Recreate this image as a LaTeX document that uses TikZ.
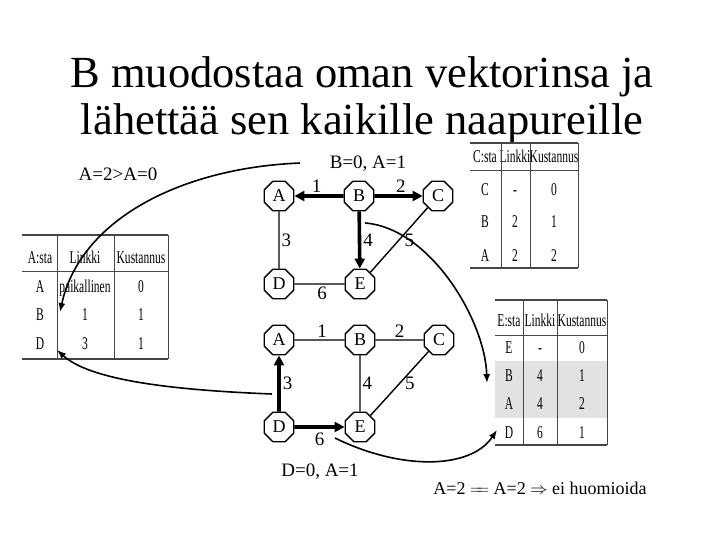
\documentclass[tikz,border=0pt]{standalone}
\usepackage{fontspec}
\setmainfont{Liberation Serif}
\usepackage{tikz}
\usetikzlibrary{arrows.meta,shapes.geometric,positioning}
\definecolor{cShade}{RGB}{226,226,226}
\definecolor{cRule}{RGB}{70,70,70}
\newcommand{\narrow}[1]{\scalebox{0.64}[1]{#1}}

\begin{document}
\begin{tikzpicture}[x=1pt,y=-1pt,
  router/.style={draw,line width=1.3pt,regular polygon,regular polygon sides=8,minimum size=32pt,inner sep=0pt,font=\fontsize{18}{18}\selectfont},
  link/.style={line width=1.4pt},
  best/.style={line width=3.6pt,-{Triangle[length=10pt,width=10pt]}},
  wt/.style={font=\fontsize{19}{19}\selectfont,inner sep=2pt},
  msg/.style={line width=1.6pt,-{Latex[length=9pt,width=7pt]}},
  cell/.style={font=\fontsize{18}{18}\selectfont,inner sep=0pt,anchor=base,yshift=-6pt},
  rule/.style={cRule,line width=0.6pt}]
  \useasboundingbox (0,0) rectangle (720,540);

  \node[font=\fontsize{44.5}{44.5}\selectfont,anchor=base] (title1) at (362,88) {B muodostaa oman vektorinsa ja};
  \node[font=\fontsize{44.5}{44.5}\selectfont,anchor=base] (title2) at (362,135) {lähettää sen kaikille naapureille};

  % upper network: B sends
  \node[router] (A1) at (279,196) {A};
  \node[router] (B1) at (359,196) {B};
  \node[router] (C1) at (438,196) {C};
  \node[router] (D1) at (279,284) {D};
  \node[router] (E1) at (360,284) {E};
  \draw[best] (B1) -- node[wt,above,pos=0.55] {1} (A1);
  \draw[best] (B1) -- node[wt,above,pos=0.55] {2} (C1);
  \draw[best] (B1) -- node[wt,right,pos=0.5] {4} (E1);
  \draw[link] (A1) -- node[wt,right] {3} (D1);
  \draw[link] (D1) -- node[wt,below,pos=0.55] {6} (E1);
  \draw[link] (C1) -- node[wt,right,pos=0.5,xshift=3pt] {5} (E1);
  \node[wt,anchor=base] (vB) at (368,169) {B=0, A=1};

  % lower network: D sends
  \node[router] (A2) at (279,340) {A};
  \node[router] (B2) at (360,340) {B};
  \node[router] (C2) at (439,340) {C};
  \node[router] (D2) at (279,427) {D};
  \node[router] (E2) at (360,427) {E};
  \draw[link] (A2) -- node[wt,above,pos=0.55] {1} (B2);
  \draw[link] (B2) -- node[wt,above,pos=0.5] {2} (C2);
  \draw[link] (B2) -- node[wt,right] {4} (E2);
  \draw[link] (C2) -- node[wt,right,pos=0.5,xshift=3pt] {5} (E2);
  \draw[best] (D2) -- node[wt,right] {3} (A2);
  \draw[best] (D2) -- node[wt,below,pos=0.5,yshift=-2pt] {6} (E2);
  \node[wt,anchor=base] (vD) at (320,476) {D=0, A=1};

  \node[wt,anchor=base] (note1) at (118,181) {A=2>A=0};
  \node[font=\fontsize{18}{18}\selectfont,anchor=base] (note2) at (540,494) {A=2 $\mathrel{=\mkern-6mu=}$ A=2 $\Rightarrow$ ei huomioida};

  % table of A
  \foreach \y/\a/\b/\c in {257/A:sta/Linkki/Kustannus,286/A/paikallinen/0,314/B/1/1,343/D/3/1}
    {\node[cell] (ta\y) at (40,\y) {\narrow{\a}};
     \node[cell] at (85,\y) {\narrow{\b}};
     \node[cell] at (141,\y) {\narrow{\c}};}
  \draw[rule,line width=1.2pt] (22,235) -- (168,235);
  \draw[rule] (22,271) -- (168,271);
  \draw[rule,line width=1.2pt] (22,359) -- (168,359);
  \foreach \x in {57,114,168} \draw[rule] (\x,235) -- (\x,359);

  % table of C
  \foreach \y/\a/\b/\c in {157/C:sta/Linkki/Kustannus,190/C/-/0,222/B/2/1,255/A/2/2}
    {\node[cell] (tc\y) at (485,\y) {\narrow{\a}};
     \node[cell] at (515,\y) {\narrow{\b}};
     \node[cell] at (554,\y) {\narrow{\c}};}
  \draw[rule,line width=1.2pt] (470,143) -- (578,143);
  \draw[rule] (470,170) -- (578,170);
  \draw[rule,line width=1.2pt] (470,268) -- (578,268);
  \foreach \x in {501,530,578} \draw[rule] (\x,143) -- (\x,268);

  % table of E
  \fill[cShade] (495,361) rectangle (607,418);
  \foreach \y/\a/\b/\c in {320/E:sta/Linkki/Kustannus,347/E/-/0,375/B/4/1,403/A/4/2,432/D/6/1}
    {\node[cell] (te\y) at (509,\y) {\narrow{\a}};
     \node[cell] at (540,\y) {\narrow{\b}};
     \node[cell] at (582,\y) {\narrow{\c}};}
  \draw[rule,line width=1.2pt] (495,300) -- (607,300);
  \draw[rule] (495,335) -- (607,335);
  \draw[rule,line width=1.2pt] (495,445) -- (607,445);
  \foreach \x in {523,557,607} \draw[rule] (\x,300) -- (\x,445);

  % vectors sent to the neighbours
  \coordinate (s1) at (300,163);
  \coordinate (e1) at (60,312);
  \coordinate (s2) at (272,394);
  \coordinate (e2) at (57,350);
  \coordinate (s3) at (365,223);
  \coordinate (e3) at (487,383);
  \coordinate (s4) at (335,438);
  \coordinate (e4) at (497,430);
  \draw[msg] (s1) .. controls (180,168) and (80,220) .. (e1);
  \draw[msg] (s2) .. controls (170,390) and (90,380) .. (e2);
  \draw[msg] (s3) .. controls (430,228) and (485,320) .. (e3);
  \draw[msg] (s4) .. controls (400,470) and (470,470) .. (e4);
\end{tikzpicture}
\end{document}
